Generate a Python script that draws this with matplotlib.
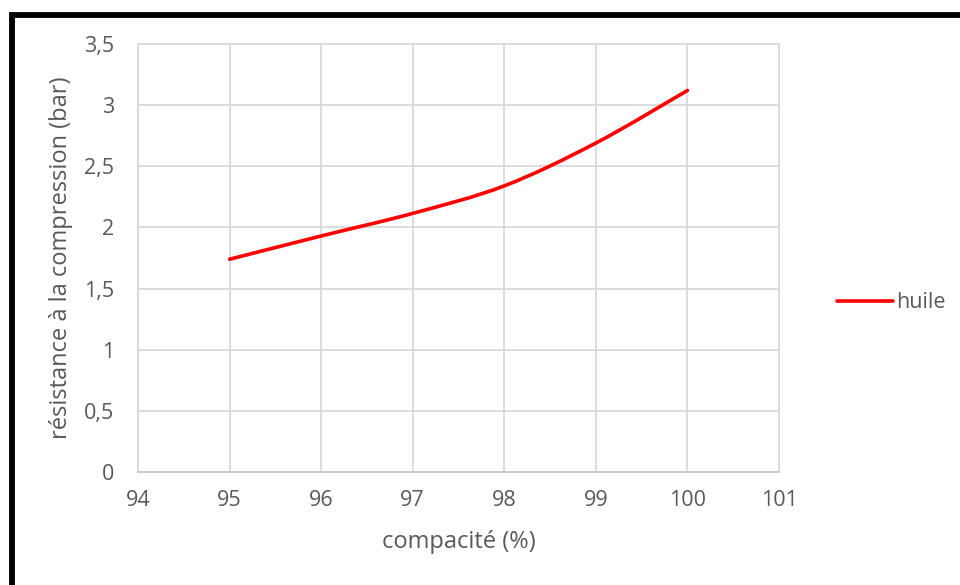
import numpy as np
import matplotlib.pyplot as plt
from matplotlib.path import Path
from matplotlib.patches import PathPatch, Rectangle
from matplotlib.lines import Line2D
from matplotlib.ticker import FuncFormatter

# compacité (%) vs résistance à la compression (bar)
compacite = [95, 96, 97, 98, 99, 100]
resistance = [1.74, 1.93, 2.115, 2.34, 2.69, 3.12]
serie = 'huile'

x_ticks = [94, 95, 96, 97, 98, 99, 100, 101]
y_ticks = [0, 0.5, 1, 1.5, 2, 2.5, 3, 3.5]

txt = '#595959'
grid = '#d9d9d9'
plt.rcParams['font.family'] = ['Open Sans', 'DejaVu Sans']


def smooth_path(xs, ys, t=1 / 6.0):
    # Catmull-Rom style bezier through the points (spreadsheet "smoothed line")
    pts = np.column_stack([xs, ys]).astype(float)
    verts = [pts[0]]
    codes = [Path.MOVETO]
    n = len(pts)
    for i in range(n - 1):
        p0 = pts[i - 1] if i > 0 else pts[i]
        p1 = pts[i]
        p2 = pts[i + 1]
        p3 = pts[i + 2] if i + 2 < n else pts[i + 1]
        c1 = p1 + (p2 - p0) * t
        c2 = p2 - (p3 - p1) * t
        verts += [c1, c2, p2]
        codes += [Path.CURVE4] * 3
    return Path(verts, codes)


fig = plt.figure(figsize=(9.6, 5.85), dpi=100)
ax = fig.add_axes([138 / 960, 1 - 472 / 585, (779 - 138) / 960, (472 - 44) / 585])

ax.add_patch(PathPatch(smooth_path(compacite, resistance), facecolor='none',
                       edgecolor='#ff0000', lw=2.6, capstyle='round', zorder=3))

ax.set_xlim(94, 101)
ax.set_ylim(0, 3.5)
ax.set_xticks(x_ticks)
ax.set_yticks(y_ticks)
ax.yaxis.set_major_formatter(FuncFormatter(lambda v, p: ('%g' % v).replace('.', ',')))
ax.grid(True, color=grid, lw=1.3)
ax.set_axisbelow(True)
for s in ax.spines.values():
    s.set_color(grid)
    s.set_linewidth(1.3)
ax.spines['bottom'].set_color('#c8c8c8')
ax.tick_params(length=0, labelsize=15.5, labelcolor=txt)
ax.tick_params(axis='x', pad=13)
ax.tick_params(axis='y', pad=17)

ax.set_xlabel('compacité (%)', fontsize=17, color=txt, labelpad=14)
ax.set_ylabel('résistance à la compression (bar)', fontsize=17, color=txt, labelpad=8)

leg = ax.legend([Line2D([], [], color='#ff0000', lw=2.6, solid_capstyle='round')], [serie],
                loc='center left', bbox_to_anchor=(1.061, 0.395), frameon=False,
                fontsize=15.5, handlelength=2.6, handletextpad=0.12)
for t in leg.get_texts():
    t.set_color(txt)

# frame around the chart (runs off the right and bottom edge)
fig.patches.append(Rectangle((11.5 / 960, -0.05), 1.1, 1 - 14.5 / 585 + 0.05,
                             transform=fig.transFigure, fill=False,
                             edgecolor='black', lw=4.2, figure=fig))

fig.savefig('out.png', dpi=100)
